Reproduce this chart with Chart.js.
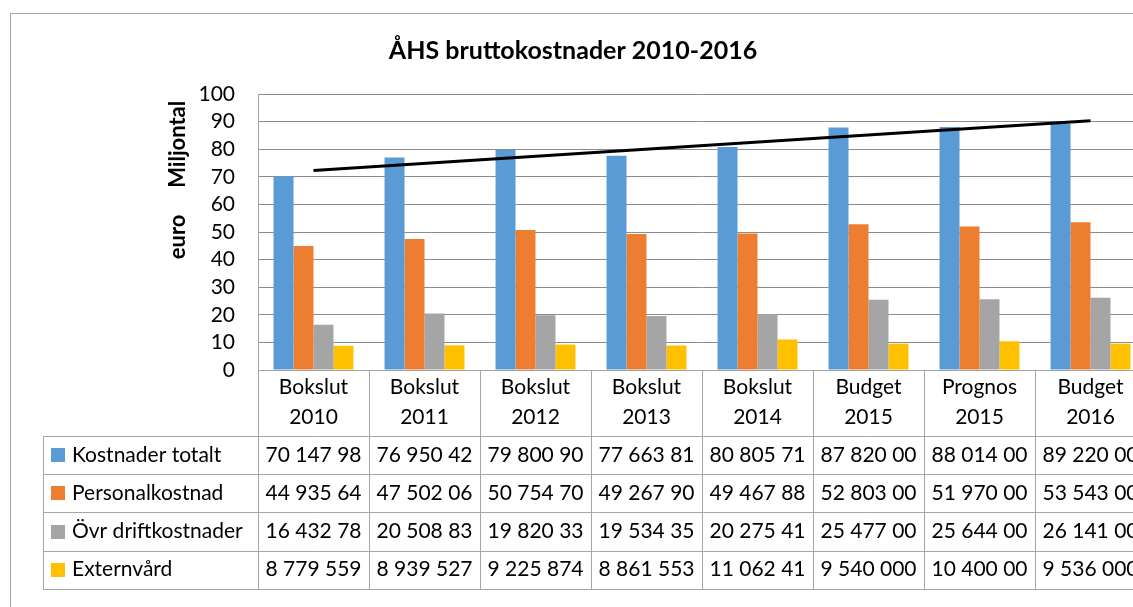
<!DOCTYPE html>
<html lang="sv">
<head>
<meta charset="UTF-8">
<title>ÅHS bruttokostnader 2010-2016</title>
<script src="https://cdn.jsdelivr.net/npm/chart.js"></script>
<style>
  html, body { margin: 0; padding: 0; background: #fff; overflow: hidden; }
  #wrap { position: relative; width: 1154px; height: 607px; }
</style>
</head>
<body>
<div id="wrap"><canvas id="costChart" width="1154" height="607"></canvas></div>
<script>
// categories (x axis / table header)
const categories = [
    ['Bokslut', '2010'], ['Bokslut', '2011'], ['Bokslut', '2012'], ['Bokslut', '2013'],
    ['Bokslut', '2014'], ['Budget', '2015'], ['Prognos', '2015'], ['Budget', '2016']
];
const seriesNames = ['Kostnader totalt', 'Personalkostnad', 'Övr driftkostnader', 'Externvård'];
const seriesColors = ['#5B9BD5', '#ED7D31', '#A5A5A5', '#FFC000'];

// values in millions of euro
const kostnaderTotalt = [70.15, 76.95, 79.80, 77.66, 80.81, 87.82, 88.01, 89.22];
const personalkostnad = [44.94, 47.50, 50.75, 49.27, 49.47, 52.80, 51.97, 53.54];
const ovrDriftkostnader = [16.43, 20.51, 19.82, 19.53, 20.28, 25.48, 25.64, 26.14];
const externvard = [8.78, 8.94, 9.23, 8.86, 11.06, 9.54, 10.40, 9.54];

// linear trend line of Kostnader totalt, endpoints
const trendStart = 72.3;
const trendEnd = 90.3;

// data table texts as shown (cells are clipped in the original)
const tableKostnader = ['70 147 98', '76 950 42', '79 800 90', '77 663 81', '80 805 71', '87 820 00', '88 014 00', '89 220 00'];
const tablePersonal = ['44 935 64', '47 502 06', '50 754 70', '49 267 90', '49 467 88', '52 803 00', '51 970 00', '53 543 00'];
const tableOvr = ['16 432 78', '20 508 83', '19 820 33', '19 534 35', '20 275 41', '25 477 00', '25 644 00', '26 141 00'];
const tableExtern = ['8 779 559', '8 939 527', '9 225 874', '8 861 553', '11 062 41', '9 540 000', '10 400 00', '9 536 000'];

const yMin = 0, yMax = 100, yStep = 10;

const FONT = 'Lato, "Open Sans", sans-serif';
const tableRows = [tableKostnader, tablePersonal, tableOvr, tableExtern];
const seriesValues = [kostnaderTotalt, personalkostnad, ovrDriftkostnader, externvard];

const trendData = categories.map(() => null);
trendData[0] = trendStart;
trendData[categories.length - 1] = trendEnd;

// outer frame of the chart object
const framePlugin = {
    id: 'frame',
    beforeDraw(chart) {
        const ctx = chart.ctx;
        ctx.save();
        ctx.strokeStyle = '#a6a6a6';
        ctx.lineWidth = 1;
        ctx.strokeRect(10.5, 13.5, 2000, 2000);
        ctx.restore();
    }
};

// rotated y-axis title, placed like in the original
const yTitlePlugin = {
    id: 'yTitle',
    afterDraw(chart) {
        const ctx = chart.ctx;
        ctx.save();
        ctx.translate(178, 180);
        ctx.rotate(-Math.PI / 2);
        ctx.font = 'bold 22px ' + FONT;
        ctx.fillStyle = '#000';
        ctx.textAlign = 'center';
        ctx.textBaseline = 'middle';
        ctx.fillText('euro     Miljontal', 0, 0);
        ctx.restore();
    }
};

// data table with legend keys under the category axis
const dataTablePlugin = {
    id: 'dataTable',
    afterDraw(chart) {
        const {ctx, chartArea, scales: {x}} = chart;
        const colW = x.width / categories.length;
        const top = chartArea.bottom + 66;
        const rowH = 38.2;
        const tableLeft = 43;
        const bottom = top + rowH * tableRows.length;
        ctx.save();
        ctx.strokeStyle = '#a6a6a6';
        ctx.lineWidth = 1;
        ctx.beginPath();
        for (let i = 0; i <= tableRows.length; i++) {
            const y = Math.round(top + i * rowH) + 0.5;
            ctx.moveTo(tableLeft, y);
            ctx.lineTo(chartArea.right, y);
        }
        ctx.moveTo(tableLeft + 0.5, Math.round(top));
        ctx.lineTo(tableLeft + 0.5, Math.round(bottom) + 1);
        for (let j = 0; j <= categories.length; j++) {
            const xx = Math.round(chartArea.left + j * colW) + 0.5;
            ctx.moveTo(xx, chartArea.bottom);
            ctx.lineTo(xx, Math.round(bottom) + 1);
        }
        ctx.stroke();

        ctx.font = '21px ' + FONT;
        ctx.fillStyle = '#000';
        ctx.textBaseline = 'middle';
        tableRows.forEach((row, i) => {
            const cy = top + i * rowH + rowH / 2;
            ctx.fillStyle = seriesColors[i];
            ctx.fillRect(51, Math.round(cy - 7), 14, 14);
            ctx.fillStyle = '#000';
            ctx.textAlign = 'left';
            ctx.fillText(seriesNames[i], 72, cy);
            ctx.textAlign = 'center';
            row.forEach((txt, j) => {
                ctx.fillText(txt, x.getPixelForValue(j), cy);
            });
        });
        ctx.restore();
    }
};

const barSets = seriesNames.map((name, i) => ({
    type: 'bar',
    label: name,
    data: seriesValues[i],
    backgroundColor: seriesColors[i],
    borderWidth: 0,
    categoryPercentage: 0.72,
    barPercentage: 1.0,
    order: 1
}));

new Chart(document.getElementById('costChart'), {
    data: {
        labels: categories,
        datasets: [
            ...barSets,
            {
                type: 'line',
                label: 'Trend',
                data: trendData,
                spanGaps: true,
                borderColor: '#000',
                borderWidth: 3,
                pointRadius: 0,
                fill: false,
                order: 0
            }
        ]
    },
    options: {
        responsive: false,
        animation: false,
        layout: { padding: { left: 0, right: 8, top: 0, bottom: 0 } },
        plugins: {
            legend: { display: false },
            tooltip: { enabled: false },
            title: {
                display: true,
                text: 'ÅHS bruttokostnader 2010-2016',
                color: '#000',
                font: { family: FONT, size: 25, weight: 'bold', lineHeight: 1.2 },
                padding: { top: 36, bottom: 28 }
            }
        },
        scales: {
            x: {
                grid: { display: false, drawTicks: false },
                border: { display: true, color: '#a6a6a6', width: 1 },
                ticks: {
                    color: '#000',
                    font: { family: FONT, size: 21, lineHeight: 1.4 },
                    padding: 3,
                    maxRotation: 0,
                    autoSkip: false
                },
                afterFit(scale) { scale.height = 237; }
            },
            y: {
                min: yMin,
                max: yMax,
                grid: { color: '#8c8c8c', lineWidth: 1, drawTicks: false },
                border: { display: true, color: '#a6a6a6', width: 1 },
                ticks: {
                    stepSize: yStep,
                    autoSkip: false,
                    color: '#000',
                    font: { family: FONT, size: 21 },
                    padding: 23
                },
                afterFit(scale) { scale.width = 258; }
            }
        }
    },
    plugins: [framePlugin, yTitlePlugin, dataTablePlugin]
});
</script>
</body>
</html>
